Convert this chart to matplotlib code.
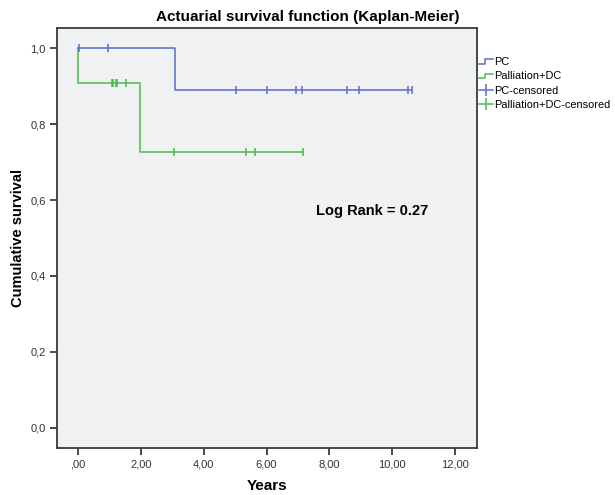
import matplotlib

matplotlib.use("Agg")
import matplotlib.pyplot as plt
from matplotlib.lines import Line2D
from matplotlib.legend_handler import HandlerBase
from matplotlib.ticker import FuncFormatter

plt.rcParams["font.family"] = ["Liberation Sans", "DejaVu Sans"]

# ---- values (years, cumulative survival) ----
pc_step_t = [0.0, 3.09, 10.64]
pc_step_s = [1.0, 0.889, 0.889]
pc_cens_t = [0.03, 0.96, 5.03, 6.02, 6.94, 7.13, 8.57, 8.95, 10.50, 10.64]
pc_cens_s = [1.0, 1.0, 0.889, 0.889, 0.889, 0.889, 0.889, 0.889, 0.889, 0.889]

dc_step_t = [0.0, 0.0, 1.97, 7.17]
dc_step_s = [1.0, 0.909, 0.727, 0.727]
dc_cens_t = [1.08, 1.11, 1.21, 1.24, 1.53, 3.06, 5.35, 5.64, 7.17]
dc_cens_s = [0.909, 0.909, 0.909, 0.909, 0.909, 0.727, 0.727, 0.727, 0.727]

labels = ["PC", "Palliation+DC", "PC-censored", "Palliation+DC-censored"]
x_ticks = [0, 2, 4, 6, 8, 10, 12]
y_ticks = [0.0, 0.2, 0.4, 0.6, 0.8, 1.0]
log_rank = 0.27

BLUE = "#5a6ec6"
GREEN = "#4cb94c"
SPINE = "#3a3a3a"


class StepHandler(HandlerBase):
    # little "_|‾" step glyph like SPSS legends
    def create_artists(self, legend, orig_handle, xdescent, ydescent, width, height, fontsize, trans):
        x0 = -xdescent
        lo = -ydescent + 0.15 * height
        hi = -ydescent + 0.75 * height
        xs = [x0, x0 + 0.45 * width, x0 + 0.45 * width, x0 + width]
        ys = [lo, lo, hi, hi]
        ln = Line2D(xs, ys, color=orig_handle.get_color(), lw=orig_handle.get_linewidth())
        ln.set_transform(trans)
        return [ln]


def x_fmt(v, pos):
    s = f"{v:.2f}".replace(".", ",")
    return s.lstrip("0") if v == 0 else s


fig = plt.figure(figsize=(6.15, 4.95), dpi=100)
ax = fig.add_axes([57 / 615, 1 - 448 / 495, 420 / 615, 420 / 495])
ax.set_facecolor("#f0f1f3")

ax.step(dc_step_t, dc_step_s, where="post", color=GREEN, lw=1.1)
ax.step(pc_step_t, pc_step_s, where="post", color=BLUE, lw=1.1)
ax.plot(dc_cens_t, dc_cens_s, ls="none", marker="|", ms=6, mew=1.1, color=GREEN)
ax.plot(pc_cens_t, pc_cens_s, ls="none", marker="|", ms=6, mew=1.1, color=BLUE)

ax.set_xlim(-0.67, 12.7)
ax.set_ylim(-0.053, 1.053)
ax.set_xticks(x_ticks)
ax.set_yticks(y_ticks)
ax.xaxis.set_major_formatter(FuncFormatter(x_fmt))
ax.yaxis.set_major_formatter(FuncFormatter(lambda v, p: f"{v:.1f}".replace(".", ",")))
ax.tick_params(axis="both", length=5, width=1.3, color=SPINE, labelsize=8, labelcolor="#333333", pad=3)
for s in ax.spines.values():
    s.set_color(SPINE)
    s.set_linewidth(1.3)

ax.set_xlabel("Years", fontsize=11, fontweight="bold", labelpad=7)
ax.set_ylabel("Cumulative survival", fontsize=10.5, fontweight="bold")
ax.yaxis.set_label_coords(-32 / 420, 0.5)
fig.suptitle("Actuarial survival function (Kaplan-Meier)", x=0.5, y=1 - 17 / 495, va="center",
             fontsize=11, fontweight="bold")

ax.text(7.58, 0.571, f"Log Rank = {log_rank}", fontsize=10.5, fontweight="bold", va="center")

handles = [
    Line2D([], [], color=BLUE, lw=1.1),
    Line2D([], [], color=GREEN, lw=1.1),
    Line2D([], [], color=BLUE, lw=1.1, marker="|", ms=8, mew=1.1),
    Line2D([], [], color=GREEN, lw=1.1, marker="|", ms=8, mew=1.1),
]
fig.legend(handles, labels, loc="upper left", bbox_to_anchor=(479 / 615, 1 - 57 / 495),
           frameon=False, fontsize=7.9, handlelength=1.3, handletextpad=0.1,
           labelspacing=0.4, borderpad=0, borderaxespad=0,
           handler_map={handles[0]: StepHandler(), handles[1]: StepHandler()})

fig.savefig("out.png", dpi=100, facecolor="white")
